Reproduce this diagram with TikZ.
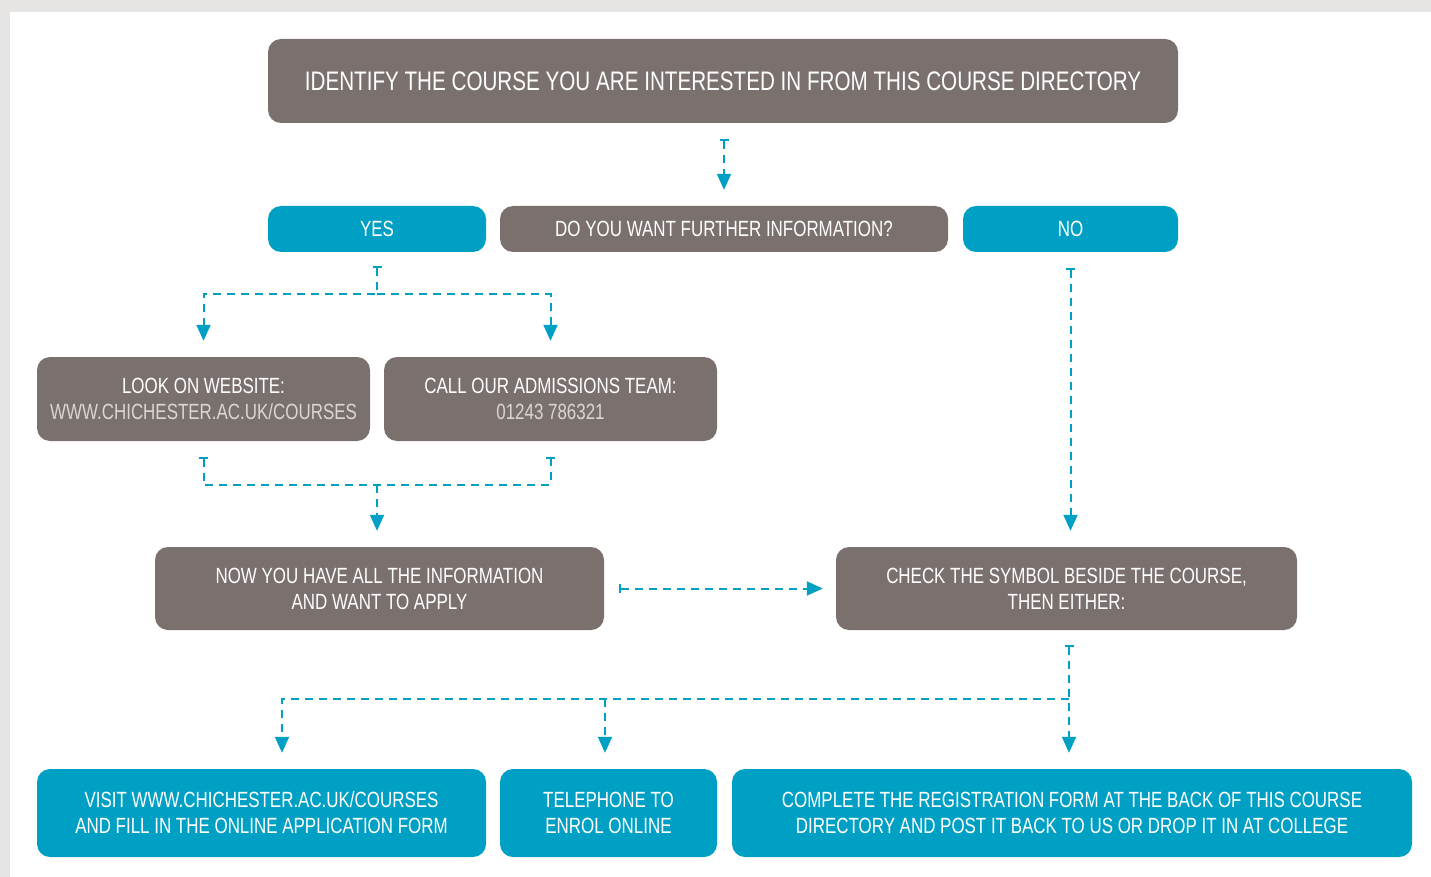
\documentclass[tikz,border=0pt]{standalone}
\usepackage{fontspec}
\setmainfont{Liberation Sans}[FakeStretch=0.77]
\usetikzlibrary{arrows.meta}
\definecolor{boxgray}{HTML}{7A716F}
\definecolor{boxblue}{HTML}{00A0C4}
\definecolor{linkgray}{HTML}{DAD6D4}
\definecolor{pagegray}{HTML}{E6E5E3}
\begin{document}
\begin{tikzpicture}[x=1pt,y=-1pt,
  box/.style={rounded corners=13pt, text=white, align=center, inner sep=0pt,
    font=\fontsize{22}{26}\selectfont},
  graybox/.style={box, fill=boxgray},
  bluebox/.style={box, fill=boxblue},
  conn/.style={draw=boxblue, line width=2pt, dash pattern=on 8pt off 6pt},
  bartip/.tip={Bar[width=9pt,line width=2pt]},
  tritip/.tip={Triangle[width=14pt,length=16pt]}
]
% page
\fill[pagegray] (0,0) rectangle (1431,877);
\fill[white] (10,12) rectangle (1431,877);
\useasboundingbox (0,0) rectangle (1431,877);

% boxes
\node[graybox, minimum width=910pt, minimum height=84pt, font=\fontsize{26.8}{32}\selectfont] (top) at (723,81)
  {IDENTIFY THE COURSE YOU ARE INTERESTED IN FROM THIS COURSE DIRECTORY};
\node[bluebox, minimum width=218pt, minimum height=46pt] (yes) at (377,229) {YES};
\node[graybox, minimum width=448pt, minimum height=46pt] (q) at (724,229) {DO YOU WANT FURTHER INFORMATION?};
\node[bluebox, minimum width=215pt, minimum height=46pt] (no) at (1070.5,229) {NO};
\node[graybox, minimum width=333pt, minimum height=84pt] (look) at (203.5,399)
  {LOOK ON WEBSITE:\\\textcolor{linkgray}{WWW.CHICHESTER.AC.UK/COURSES}};
\node[graybox, minimum width=333pt, minimum height=84pt] (call) at (550.5,399)
  {CALL OUR ADMISSIONS TEAM:\\\textcolor{linkgray}{01243 786321}};
\node[graybox, minimum width=449pt, minimum height=83pt] (now) at (379.5,588.5)
  {NOW YOU HAVE ALL THE INFORMATION\\AND WANT TO APPLY};
\node[graybox, minimum width=461pt, minimum height=83pt] (check) at (1066.5,588.5)
  {CHECK THE SYMBOL BESIDE THE COURSE,\\THEN EITHER:};
\node[bluebox, minimum width=449pt, minimum height=88pt] (visit) at (261.5,813)
  {VISIT WWW.CHICHESTER.AC.UK/COURSES\\AND FILL IN THE ONLINE APPLICATION FORM};
\node[bluebox, minimum width=217pt, minimum height=88pt] (tel) at (608.5,813)
  {TELEPHONE TO\\ENROL ONLINE};
\node[bluebox, minimum width=680pt, minimum height=88pt] (complete) at (1072,813)
  {COMPLETE THE REGISTRATION FORM AT THE BACK OF THIS COURSE\\DIRECTORY AND POST IT BACK TO US OR DROP IT IN AT COLLEGE};

% junctions
\coordinate (j1) at (377,294);
\coordinate (j2) at (377,485);
\coordinate (j3) at (1069,699);
\coordinate (a1) at (282,699);
\coordinate (a2) at (605,699);

% connectors
\draw[conn, bartip-tritip, shorten <=16pt, shorten >=16pt] (q.north |- top.south) -- (q.north);
\draw[conn, bartip-tritip, shorten >=16pt] ([yshift=-14pt]yes.south) -- (j1) -| (look.north);
\draw[conn, -tritip, shorten >=16pt] (j1) -| (call.north);
\draw[conn, bartip-bartip] ([yshift=-16pt]look.south) |- (j2) -| ([yshift=-16pt]call.south);
\draw[conn, -tritip, shorten >=16pt] (j2) -- (j2 |- now.north);
\draw[conn, bartip-tritip, shorten <=16pt, shorten >=16pt] (no.south) -- (no.south |- check.north);
\draw[conn, bartip-tritip, shorten <=15pt, shorten >=13pt] (now.east) -- (now.east -| check.west);
\draw[conn, bartip-tritip, shorten <=15pt, shorten >=16pt] (j3 |- check.south) -- (j3 |- complete.north);
\draw[conn, -tritip, shorten >=16pt] (j3) -- (a1) -- (a1 |- visit.north);
\draw[conn, -tritip, shorten >=16pt] (a2) -- (a2 |- tel.north);
\end{tikzpicture}
\end{document}
